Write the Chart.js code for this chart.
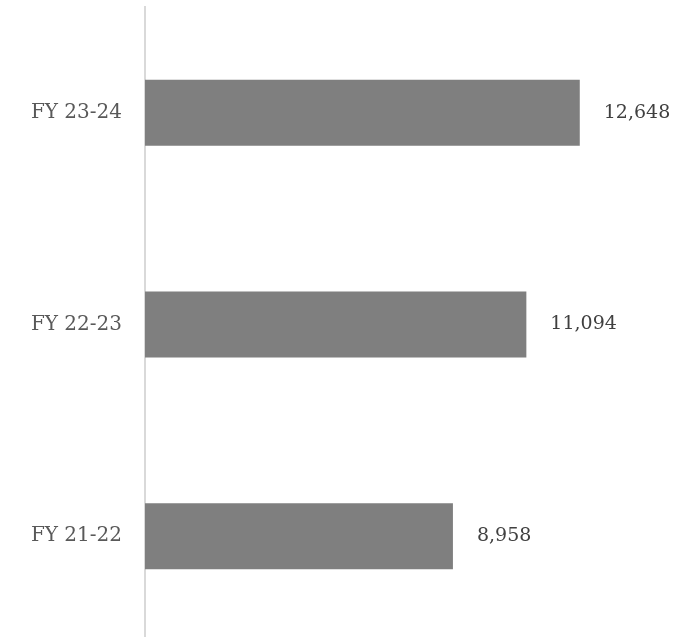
<!DOCTYPE html>
<html>
<head>
<meta charset="utf-8">
<script src="https://cdn.jsdelivr.net/npm/chart.js@4/dist/chart.umd.min.js"></script>
<style>
  html, body { margin: 0; padding: 0; background: #fff; overflow: hidden; }
  #wrap { position: relative; width: 697px; height: 642px; }
</style>
</head>
<body>
<div id="wrap"><canvas id="revChart"></canvas></div>
<script>
const years = ['FY 23-24', 'FY 22-23', 'FY 21-22'];
const revenue = [12648, 11094, 8958];
const xMax = 16000;

// writes the value just past the end of each bar
const valueLabels = {
  id: 'valueLabels',
  afterDatasetsDraw(chart) {
    const ctx = chart.ctx;
    const meta = chart.getDatasetMeta(0);
    ctx.save();
    ctx.font = '19px "DejaVu Serif"';
    ctx.fillStyle = '#404040';
    ctx.textAlign = 'left';
    ctx.textBaseline = 'middle';
    meta.data.forEach(function (bar, i) {
      ctx.fillText(revenue[i].toLocaleString('en-US'), bar.x + 24, bar.y);
    });
    ctx.restore();
  }
};

const ctx = document.getElementById('revChart').getContext('2d');
new Chart(ctx, {
  type: 'bar',
  data: {
    labels: years,
    datasets: [{
      data: revenue,
      backgroundColor: '#7f7f7f',
      borderWidth: 0,
      categoryPercentage: 1,
      barPercentage: 0.312
    }]
  },
  options: {
    indexAxis: 'y',
    responsive: true,
    maintainAspectRatio: false,
    animation: false,
    layout: { padding: { top: 7, right: 2, bottom: 0, left: 0 } },
    scales: {
      x: { display: false, min: 0, max: xMax },
      y: {
        grid: { display: false, drawTicks: false },
        border: { display: true, color: '#d9d9d9', width: 2 },
        ticks: {
          color: '#595959',
          padding: 23,
          font: { family: '"DejaVu Serif"', size: 20 }
        },
        afterFit: function (scale) {
          scale.width = 145;
          scale.paddingTop = 0;
          scale.paddingBottom = 0;
        }
      }
    },
    plugins: {
      legend: { display: false },
      tooltip: { enabled: false },
      title: { display: false }
    }
  },
  plugins: [valueLabels]
});
</script>
</body>
</html>
